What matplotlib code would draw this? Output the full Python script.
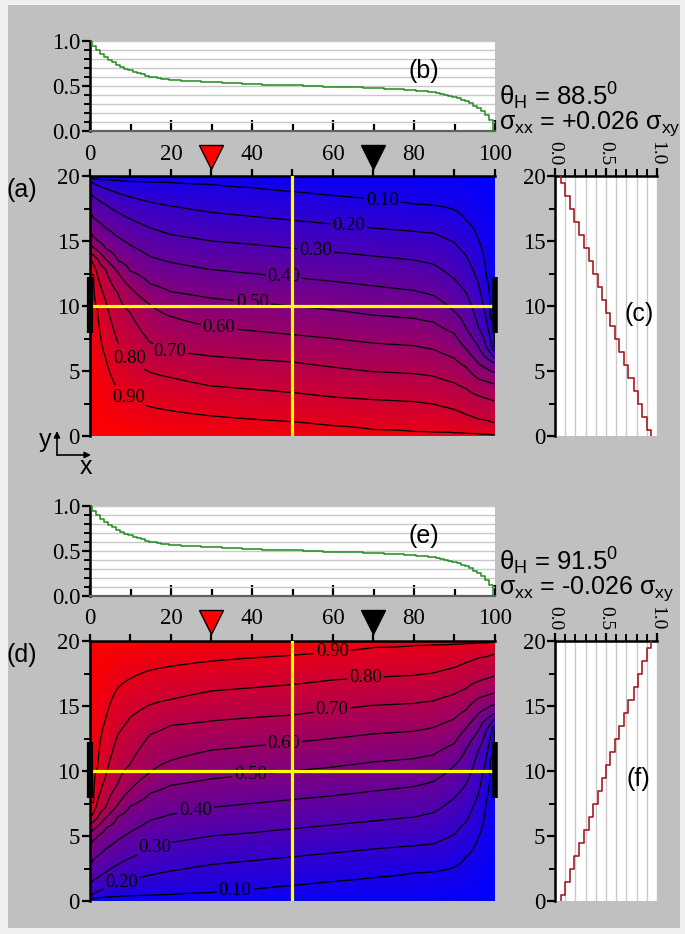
import numpy as np
import matplotlib
matplotlib.use("Agg")
import matplotlib.pyplot as plt
from matplotlib.colors import LinearSegmentedColormap
from matplotlib.transforms import blended_transform_factory
from matplotlib.patches import Rectangle, FancyArrowPatch

# ---------------- data ----------------
levels = [0.1, 0.2, 0.3, 0.4, 0.5, 0.6, 0.7, 0.8, 0.9]
# x positions (columns) where the contour heights were read, panel (a)
x_cols = [0, 1, 2, 4, 7, 10, 15, 20, 30, 40, 50, 60, 70, 80, 85, 90, 93, 96, 98, 99, 100]
# y position of each contour level at x_cols, panel (a)
lvl_010 = [19.85, 19.8, 19.75, 19.7, 19.65, 19.6, 19.55, 19.5, 19.35, 19.1, 18.8, 18.5, 18.2, 17.85, 17.75, 17.4, 16.6, 15.1, 12.3, 9.1, 6.8]
lvl_020 = [19.6, 19.45, 19.3, 19.05, 18.7, 18.4, 18.0, 17.7, 17.2, 16.9, 16.6, 16.3, 16.0, 15.75, 15.6, 14.9, 13.9, 11.8, 9.0, 7.4, 6.5]
lvl_030 = [18.8, 18.4, 18.2, 17.8, 17.2, 16.7, 16.0, 15.5, 15.0, 14.75, 14.45, 14.15, 13.85, 13.55, 13.2, 12.1, 11.0, 8.4, 6.8, 6.4, 6.0]
lvl_040 = [17.3, 16.8, 16.55, 16.0, 15.3, 14.7, 13.8, 13.35, 12.8, 12.5, 12.2, 11.9, 11.55, 11.2, 10.8, 9.6, 8.3, 6.9, 6.0, 5.8, 5.6]
lvl_050 = [15.7, 15.3, 15.0, 14.4, 13.5, 12.7, 11.7, 11.1, 10.6, 10.3, 10.0, 9.7, 9.3, 9.05, 8.75, 7.9, 6.7, 5.6, 5.2, 5.0, 4.9]
lvl_060 = [14.8, 14.5, 14.25, 13.6, 12.6, 11.45, 10.1, 9.2, 8.4, 8.1, 7.8, 7.5, 7.15, 6.95, 6.65, 6.0, 5.3, 4.4, 4.2, 4.1, 4.0]
lvl_070 = [14.1, 13.9, 13.6, 12.8, 11.0, 9.5, 7.2, 6.5, 6.15, 5.9, 5.7, 5.3, 4.95, 4.8, 4.6, 4.1, 3.65, 3.1, 2.9, 2.8, 2.7]
lvl_080 = [13.6, 13.2, 12.3, 10.4, 7.2, 5.9, 4.9, 4.5, 3.85, 3.6, 3.35, 3.0, 2.8, 2.65, 2.45, 2.05, 1.65, 1.3, 1.2, 1.1, 1.0]
lvl_090 = [13.2, 12.4, 9.7, 6.0, 3.6, 2.9, 2.25, 1.95, 1.55, 1.3, 1.1, 0.8, 0.5, 0.35, 0.3, 0.25, 0.2, 0.15, 0.12, 0.1, 0.1]
# potential along bottom (y=0) and top (y=20) edges at x_cols, panel (a)
v_bottom = [1.0, 1.0, 1.0, 1.0, 0.99, 0.98, 0.97, 0.97, 0.96, 0.96, 0.96, 0.96, 0.96, 0.97, 0.97, 0.97, 0.98, 0.98, 0.99, 1.0, 1.0]
v_top = [0.0, 0.0, 0.01, 0.02, 0.02, 0.03, 0.03, 0.03, 0.04, 0.04, 0.04, 0.04, 0.04, 0.04, 0.03, 0.03, 0.02, 0.01, 0.0, 0.0, 0.0]

# profile along y = 10 (panels b, e)
profile_x = [0, 1, 2, 3, 4, 5, 6, 7, 8, 9, 10, 11, 12, 13, 14, 15, 16, 17, 18, 19, 20,
             25, 30, 35, 40, 45, 50, 55, 60, 65, 70, 75,
             80, 81, 82, 83, 84, 85, 86, 87, 88, 89, 90, 91, 92, 93, 94, 95, 96, 97, 98, 99, 100]
profile_v = [1.000, 0.944, 0.900, 0.860, 0.822, 0.790, 0.762, 0.737, 0.714, 0.693, 0.674,
             0.657, 0.642, 0.628, 0.616, 0.605, 0.596, 0.588, 0.581, 0.575, 0.570,
             0.553, 0.541, 0.531, 0.522, 0.514, 0.507, 0.500, 0.493, 0.486, 0.478, 0.468,
             0.452, 0.448, 0.444, 0.439, 0.434, 0.428, 0.421, 0.413, 0.404, 0.393, 0.380,
             0.366, 0.349, 0.330, 0.308, 0.283, 0.254, 0.220, 0.178, 0.120, 0.000]

# profile along x = 50 (panel c; panel f is its mirror)
cut_y_vals = list(range(0, 21))
cut_profile = [0.94, 0.90, 0.85, 0.81, 0.77, 0.72, 0.68, 0.63, 0.59, 0.54, 0.50,
               0.46, 0.42, 0.37, 0.33, 0.28, 0.24, 0.19, 0.15, 0.10, 0.06]

cut_x = 50
cut_y = 10
probe_x = [30, 70]
probe_colors = ["#ff0000", "#000000"]
contact_y = [7.9, 12.2]

label_pos_a = [(72.3, 18.2), (64, 16.2), (55.8, 14.2), (48, 12.2), (40.2, 10.3),
               (31.9, 8.2), (20, 6.6), (9.7, 5.95), (9.7, 3.0)]
label_pos_d = [(36, 0.6), (8.1, 1.3), (15.9, 4.2), (26.2, 7.0), (39.75, 9.7),
               (48, 12.2), (59.9, 14.7), (68.1, 17.2), (59.9, 19.3)]

# ---------------- field ----------------
xf = np.linspace(0, 100, 801)
yf = np.linspace(0, 20, 401)
ypos = np.array([lvl_010, lvl_020, lvl_030, lvl_040, lvl_050, lvl_060, lvl_070, lvl_080, lvl_090])
lev = np.array(levels)
cols = []
for j in range(len(x_cols)):
    ky = np.concatenate(([0.0], ypos[::-1, j], [20.0]))
    kv = np.concatenate(([v_bottom[j]], lev[::-1], [v_top[j]]))
    cols.append(np.interp(yf, ky, kv))
cols = np.array(cols)
Va = np.array([np.interp(xf, x_cols, cols[:, i]) for i in range(len(yf))])
Vd = Va[::-1, :]

# ---------------- style ----------------
SERIF = "Liberation Serif"
SANS = "Liberation Sans"
plt.rcParams["font.family"] = [SERIF, "DejaVu Serif"]
plt.rcParams["mathtext.fontset"] = "custom"
plt.rcParams["mathtext.rm"] = "Liberation Sans"
plt.rcParams["mathtext.it"] = "Liberation Sans:italic"
plt.rcParams["mathtext.bf"] = "Liberation Sans:bold"
TICK_FS = 16.5
cmap = LinearSegmentedColormap.from_list("br", ["#0000ff", "#ff0000"])

W, H = 685, 934
fig = plt.figure(figsize=(W / 100, H / 100), dpi=100)
fig.patch.set_facecolor("#f0f0f0")
fig.add_artist(Rectangle((8 / W, 1 - 928 / H), 672 / W, 923 / H, transform=fig.transFigure,
                         facecolor="#c0c0c0", edgecolor="none", zorder=-10))


def px_axes(l, t, w, h):
    return fig.add_axes([l / W, 1 - (t + h) / H, w / W, h / H])


def style_y20(ax):
    ax.set_ylim(0, 20)
    ax.set_yticks([0, 5, 10, 15, 20])
    ax.set_yticklabels(["0", "5", "10", "15", "20"])
    ax.set_yticks([2.5, 7.5, 12.5, 17.5], minor=True)
    ax.tick_params(axis="y", which="major", direction="out", length=6, width=1.6,
                   labelsize=TICK_FS, pad=1, labelfontfamily=SERIF)
    ax.tick_params(axis="y", which="minor", direction="out", length=4, width=1.4)
    for s in ["bottom", "right"]:
        ax.spines[s].set_visible(False)
    for s in ["left", "top"]:
        ax.spines[s].set_linewidth(1.8)
        ax.spines[s].set_color("black")


def draw_profile(ax, letter, theta_txt, sigma_txt, top_px):
    ax.set_facecolor("white")
    ax.set_xlim(0, 100)
    ax.set_ylim(0, 1)
    ax.set_axisbelow(True)
    ax.set_yticks([0, 0.5, 1.0])
    ax.set_yticklabels(["0.0", "0.5", "1.0"])
    ax.set_yticks(np.arange(0.1, 1.0, 0.1), minor=True)
    ax.grid(axis="y", which="both", color="#c8c8c8", lw=1.0)
    ax.step(profile_x, profile_v, where="mid", color="#1e8c1e", lw=1.1, zorder=3)
    ax.set_xticks(range(0, 101, 20))
    ax.set_xticklabels([str(v) for v in range(0, 101, 20)])
    ax.set_xticks(range(10, 100, 20), minor=True)
    ax.tick_params(axis="x", which="major", direction="in", length=8, width=1.6,
                   labelsize=TICK_FS, pad=9, labelfontfamily=SERIF)
    ax.tick_params(axis="x", which="minor", direction="in", length=5, width=1.6)
    ax.tick_params(axis="y", which="major", direction="out", length=6, width=1.6,
                   labelsize=TICK_FS, pad=1, labelfontfamily=SERIF)
    ax.tick_params(axis="y", which="minor", direction="out", length=4, width=1.4)
    ax.spines["top"].set_visible(False)
    ax.spines["right"].set_visible(False)
    ax.spines["left"].set_linewidth(1.8)
    ax.spines["bottom"].set_color("#606060")
    ax.spines["bottom"].set_linewidth(1.6)
    ax.text(0.825, 0.67, letter, transform=ax.transAxes, ha="center", va="center",
            family=SANS, fontsize=18)
    fig.text(499 / W, 1 - (top_px + 55) / H, theta_txt, ha="left", va="center",
             family=SANS, fontsize=18.5)
    fig.text(499 / W, 1 - (top_px + 83) / H, sigma_txt, ha="left", va="center",
             family=SANS, fontsize=18)


def draw_field(ax, V, label_pos):
    ax.imshow(V, extent=[0, 100, 0, 20], origin="lower", cmap=cmap, vmin=0, vmax=1,
              aspect="auto", interpolation="bilinear")
    cs = ax.contour(xf, yf, V, levels=levels, colors="k", linewidths=0.9)
    texts = ax.clabel(cs, manual=label_pos, inline=True, fmt="%.2f", fontsize=13.5,
                      inline_spacing=2)
    for t in texts:
        t.set_rotation(0)
        t.set_fontfamily(SERIF)
    ax.axvline(cut_x, color="#ffff00", lw=2.3, zorder=4)
    ax.axhline(cut_y, xmin=0.006, xmax=0.992, color="#ffff00", lw=2.3, zorder=4)
    ax.plot([0, 0], contact_y, color="k", lw=4.5, solid_capstyle="butt",
            clip_on=False, zorder=6)
    ax.plot([100, 100], contact_y, color="k", lw=4.0, solid_capstyle="butt",
            clip_on=False, zorder=6)
    ax.set_xlim(0, 100)
    style_y20(ax)
    ax.xaxis.tick_top()
    ax.set_xticks(range(0, 101, 10))
    ax.tick_params(axis="x", which="major", direction="out", length=5, width=1.6,
                   labeltop=False, labelbottom=False)
    trans = blended_transform_factory(ax.transData, ax.transAxes)
    for px, pc in zip(probe_x, probe_colors):
        ax.plot([px], [1.072], marker="v", ms=17, mfc=pc, mec="k", mew=1.0,
                transform=trans, clip_on=False, zorder=7, ls="none")


def draw_cut(ax, vals, letter):
    ax.set_facecolor("white")
    ax.set_xlim(0, 1)
    ax.set_axisbelow(True)
    ax.xaxis.tick_top()
    ax.set_xticks([0, 0.5, 1.0])
    ax.set_xticklabels(["0.0", "0.5", "1.0"], rotation=-90)
    ax.set_xticks(np.arange(0.1, 1.0, 0.1), minor=True)
    ax.grid(axis="x", which="both", color="#c8c8c8", lw=1.0)
    ax.tick_params(axis="x", which="major", direction="out", length=6, width=1.6,
                   labelsize=14, pad=2, labelfontfamily=SERIF)
    ax.tick_params(axis="x", which="minor", direction="out", length=5, width=1.4)
    style_y20(ax)
    sx, sy = [], []
    for yv, vv in zip(cut_y_vals, vals):
        sx += [vv, vv]
        sy += [max(yv - 0.5, 0), min(yv + 0.5, 20)]
    ax.plot(sx, sy, color="#a51c1c", lw=1.2, zorder=3)
    ax.text(0.82, 0.47, letter, transform=ax.transAxes, ha="center", va="center",
            family=SANS, fontsize=18)


ax_b = px_axes(90, 41, 405, 90)
ax_a = px_axes(89.5, 176, 405, 260)
ax_c = px_axes(555, 176, 102, 260)
ax_e = px_axes(90, 506, 405, 90)
ax_d = px_axes(89.5, 641, 405, 260)
ax_f = px_axes(555, 641, 102, 260)

draw_profile(ax_b, "(b)", r"$\mathregular{\theta_H}$ = 88.5$^\mathregular{0}$",
             r"$\mathregular{\sigma_{xx}}$ = +0.026 $\mathregular{\sigma_{xy}}$", 41)
draw_profile(ax_e, "(e)", r"$\mathregular{\theta_H}$ = 91.5$^\mathregular{0}$",
             r"$\mathregular{\sigma_{xx}}$ = -0.026 $\mathregular{\sigma_{xy}}$", 506)
draw_field(ax_a, Va, label_pos_a)
draw_field(ax_d, Vd, label_pos_d)
draw_cut(ax_c, cut_profile, "(c)")
draw_cut(ax_f, cut_profile[::-1], "(f)")

fig.text(22 / W, 1 - 190 / H, "(a)", ha="center", va="center", family=SANS, fontsize=18)
fig.text(22 / W, 1 - 655 / H, "(d)", ha="center", va="center", family=SANS, fontsize=18)

# coordinate icon
fig.text(45 / W, 1 - 440 / H, "y", ha="center", va="center", family=SANS, fontsize=18)
fig.text(86 / W, 1 - 467 / H, "x", ha="center", va="center", family=SANS, fontsize=18)
fig.add_artist(FancyArrowPatch((57 / W, 1 - 455 / H), (57 / W, 1 - 431 / H),
                               transform=fig.transFigure, arrowstyle="-|>",
                               mutation_scale=9, lw=1.2, color="k", shrinkA=0, shrinkB=0))
fig.add_artist(FancyArrowPatch((57 / W, 1 - 455 / H), (91 / W, 1 - 455 / H),
                               transform=fig.transFigure, arrowstyle="-|>",
                               mutation_scale=9, lw=1.2, color="k", shrinkA=0, shrinkB=0))

fig.savefig("out.png", dpi=100, facecolor=fig.get_facecolor())
